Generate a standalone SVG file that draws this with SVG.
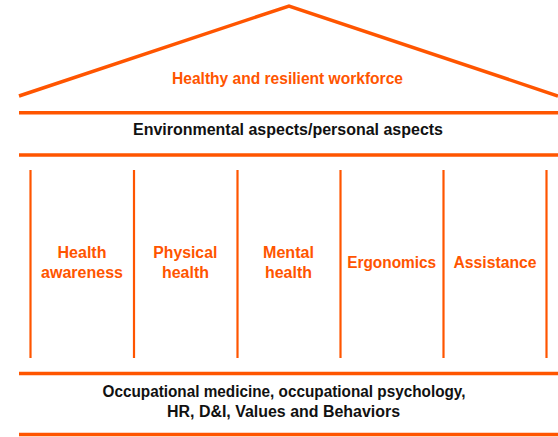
<svg xmlns="http://www.w3.org/2000/svg" width="558" height="437" viewBox="0 0 558 437">
  <style>
    .rule { stroke: #FF5500; fill: none; }
    .beam { stroke-width: 3.5; }
    .pillar { stroke-width: 2.2; }
    .lbl { font-family: "Liberation Sans", Arial, sans-serif; font-weight: bold; font-size: 16px; text-anchor: middle; }
    .orange { fill: #FF5500; }
    .dark { fill: #111111; }
  </style>
  <rect width="558" height="437" fill="#ffffff"/>

  <!-- roof -->
  <g id="roof">
    <polyline class="rule beam" points="19,96 289,6 558,96" stroke-linejoin="miter"/>
    <text class="lbl orange" x="287.5" y="84" textLength="231" lengthAdjust="spacingAndGlyphs">Healthy and resilient workforce</text>
  </g>

  <!-- entablature band -->
  <g id="band">
    <line class="rule beam" x1="19" y1="112.7" x2="558" y2="112.7"/>
    <line class="rule beam" x1="19" y1="155" x2="558" y2="155"/>
    <text class="lbl dark" x="288" y="135" textLength="310" lengthAdjust="spacingAndGlyphs">Environmental aspects/personal aspects</text>
  </g>

  <!-- pillars -->
  <g id="pillar-lines">
    <line class="rule pillar" x1="30.5" y1="170" x2="30.5" y2="358"/>
    <line class="rule pillar" x1="134" y1="170" x2="134" y2="358"/>
    <line class="rule pillar" x1="237.5" y1="170" x2="237.5" y2="358"/>
    <line class="rule pillar" x1="340.5" y1="170" x2="340.5" y2="358"/>
    <line class="rule pillar" x1="443.5" y1="170" x2="443.5" y2="358"/>
    <line class="rule pillar" x1="546.5" y1="170" x2="546.5" y2="358"/>
  </g>
  <g id="health-awareness">
    <text class="lbl orange" x="82" y="258" textLength="49" lengthAdjust="spacingAndGlyphs">Health</text>
    <text class="lbl orange" x="82" y="278" textLength="82" lengthAdjust="spacingAndGlyphs">awareness</text>
  </g>
  <g id="physical-health">
    <text class="lbl orange" x="185.3" y="258" textLength="64" lengthAdjust="spacingAndGlyphs">Physical</text>
    <text class="lbl orange" x="185.5" y="278" textLength="47" lengthAdjust="spacingAndGlyphs">health</text>
  </g>
  <g id="mental-health">
    <text class="lbl orange" x="288.5" y="258" textLength="51" lengthAdjust="spacingAndGlyphs">Mental</text>
    <text class="lbl orange" x="288.5" y="278" textLength="47" lengthAdjust="spacingAndGlyphs">health</text>
  </g>
  <g id="ergonomics">
    <text class="lbl orange" x="391.7" y="267.5" textLength="89" lengthAdjust="spacingAndGlyphs">Ergonomics</text>
  </g>
  <g id="assistance">
    <text class="lbl orange" x="495" y="267.5" textLength="83" lengthAdjust="spacingAndGlyphs">Assistance</text>
  </g>

  <!-- foundation -->
  <g id="foundation">
    <line class="rule beam" x1="19" y1="373.5" x2="558" y2="373.5"/>
    <line class="rule beam" x1="19" y1="434.5" x2="558" y2="434.5"/>
    <text class="lbl dark" x="284" y="397" textLength="363" lengthAdjust="spacingAndGlyphs">Occupational medicine, occupational psychology,</text>
    <text class="lbl dark" x="283.5" y="417" textLength="233" lengthAdjust="spacingAndGlyphs">HR, D&amp;I, Values and Behaviors</text>
  </g>
</svg>
